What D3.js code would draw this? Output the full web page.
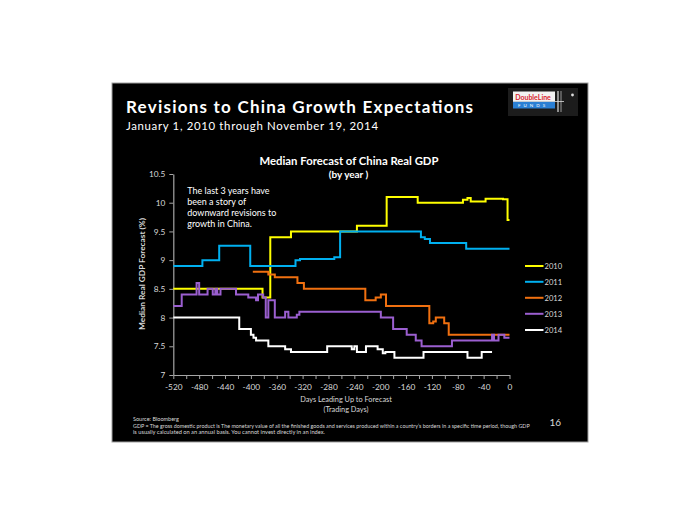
<!DOCTYPE html>
<html><head><meta charset="utf-8">
<script src="https://cdn.jsdelivr.net/npm/d3@7"></script>
<style>body{margin:0;background:#fff;} svg{display:block;} text{font-family:Lato,'Open Sans',sans-serif;}</style>
</head><body><svg id="c" width="700" height="525"></svg>
<script>
// ---------- data ----------
const years = ["2010", "2011", "2012", "2013", "2014"];
const days2010 = [-520, -382, -370, -338, -236, -190, -142, -72, -65, -60, -37, -10, -3, 0];
const vals2010 = [8.5, 8.35, 9.4, 9.5, 9.6, 10.1, 10.0, 10.05, 10.08, 10.02, 10.07, 10.06, 9.7, 9.7];
const days2011 = [-520, -475, -449, -401, -331, -324, -271, -262, -137, -131, -123, -67, 0];
const vals2011 = [8.9, 9.0, 9.25, 8.9, 9.0, 9.02, 9.05, 9.5, 9.4, 9.37, 9.3, 9.2, 9.2];
const days2012 = [-397, -373, -363, -328, -318, -223, -207, -199, -191, -124, -118, -114, -101, -94, 0];
const vals2012 = [8.8, 8.75, 8.7, 8.6, 8.5, 8.3, 8.35, 8.4, 8.2, 7.9, 7.93, 8.0, 7.9, 7.7, 7.7];
const days2013 = [-520, -507, -484, -480, -467, -459, -455, -452, -447, -423, -404, -392, -389, -381, -377, -373, -363, -347, -342, -329, -325, -199, -180, -159, -145, -136, -89, -27, -24, -17, -8, 0];
const vals2013 = [8.2, 8.4, 8.6, 8.4, 8.5, 8.4, 8.5, 8.4, 8.5, 8.4, 8.35, 8.3, 8.4, 8.35, 8.0, 8.3, 8.0, 8.1, 8.0, 8.05, 8.1, 8.0, 7.8, 7.7, 7.6, 7.5, 7.6, 7.7, 7.6, 7.7, 7.65, 7.65];
const days2014 = [-520, -418, -400, -396, -392, -373, -347, -338, -282, -244, -240, -236, -222, -204, -196, -192, -178, -133, -65, -43, -27];
const vals2014 = [8.0, 7.8, 7.7, 7.65, 7.6, 7.5, 7.45, 7.4, 7.5, 7.45, 7.5, 7.4, 7.5, 7.45, 7.38, 7.4, 7.3, 7.4, 7.3, 7.4, 7.4];
const xTickLabels = [-520, -480, -440, -400, -360, -320, -280, -240, -200, -160, -120, -80, -40, 0];
const xMinorTicks = [-500, -460, -420, -380, -340, -300, -260, -220, -180, -140, -100, -60, -20];
const yTicks = [7, 7.5, 8, 8.5, 9, 9.5, 10, 10.5];

const seriesDays = [days2010, days2011, days2012, days2013, days2014];
const seriesVals = [vals2010, vals2011, vals2012, vals2013, vals2014];
const colors = ["#ffff00", "#00b0f0", "#f07010", "#9b5fd0", "#ffffff"];

// ---------- drawing ----------
const svg = d3.select("#c");
function fit(sel, w) {
  const L = sel.node().getComputedTextLength();
  const fs = parseFloat(sel.attr("font-size"));
  sel.attr("font-size", (fs * w / L).toFixed(2));
  return sel;
}

svg.append("rect").attr("x", 112).attr("y", 83).attr("width", 476).attr("height", 359)
  .attr("fill", "#000").attr("stroke", "#a0a0a0").attr("stroke-width", 1);

// titles
svg.append("text").attr("x", 126).attr("y", 113).attr("font-size", 17).attr("font-weight", "bold")
  .attr("textLength", 347).attr("lengthAdjust", "spacing")
  .attr("fill", "#fff").text("Revisions to China Growth Expectations");
svg.append("text").attr("x", 126).attr("y", 129.5).attr("font-size", 11.4)
  .attr("textLength", 252).attr("lengthAdjust", "spacing")
  .attr("fill", "#fff").text("January 1, 2010 through November 19, 2014");

// logo
const lg = svg.append("g");
lg.append("rect").attr("x", 508).attr("y", 88).attr("width", 70).attr("height", 28).attr("fill", "#1c1c1c");
lg.append("rect").attr("x", 513).attr("y", 91.5).attr("width", 42).attr("height", 10).attr("fill", "#f2f2f2");
lg.append("rect").attr("x", 513).attr("y", 101.5).attr("width", 42).attr("height", 7).attr("fill", "#2a7fd4");
lg.append("text").attr("x", 533).attr("y", 99.5).attr("text-anchor", "middle").attr("font-size", 7)
  .attr("font-weight", "bold").attr("fill", "#d8262e").text("DoubleLine");
lg.append("text").attr("x", 533).attr("y", 107).attr("text-anchor", "middle").attr("font-size", 4.5)
  .attr("fill", "#fff").attr("letter-spacing", 3).text("FUNDS");
lg.append("line").attr("x1", 558).attr("x2", 558).attr("y1", 91).attr("y2", 112).attr("stroke", "#ddd").attr("stroke-width", 1.2);
lg.append("line").attr("x1", 561).attr("x2", 561).attr("y1", 91).attr("y2", 112).attr("stroke", "#bbb").attr("stroke-width", 0.8);
lg.append("line").attr("x1", 513).attr("x2", 564).attr("y1", 101.5).attr("y2", 101.5).attr("stroke", "#ddd").attr("stroke-width", 0.8);
lg.append("circle").attr("cx", 572.5).attr("cy", 95).attr("r", 1.4).attr("fill", "#ddd");

// chart title
fit(svg.append("text").attr("x", 349).attr("y", 164.5).attr("text-anchor", "middle").attr("font-size", 11)
  .attr("font-weight", "bold").attr("fill", "#fff").text("Median Forecast of China Real GDP"), 179);
fit(svg.append("text").attr("x", 348.5).attr("y", 178).attr("text-anchor", "middle").attr("font-size", 9)
  .attr("font-weight", "bold").attr("fill", "#fff").text("(by year )"), 39.6);

// scales
const x = d3.scaleLinear().domain([-520, 0]).range([173.3, 509.5]);
const y = d3.scaleLinear().domain([7, 10.5]).range([375, 174]);
const axisColor = "#a6a6a6", labelColor = "#d9d9d9";

const yAx = svg.append("g").attr("transform", "translate(173.3,0)")
  .call(d3.axisLeft(y).tickValues(yTicks).tickSize(4).tickSizeOuter(0).tickPadding(4).tickFormat(d => String(d)));
yAx.select(".domain").attr("stroke", axisColor).attr("stroke-width", 1.2);
yAx.selectAll(".tick line").attr("stroke", axisColor);
yAx.selectAll(".tick text").attr("fill", labelColor).attr("font-size", 8.3).attr("font-family", "Lato,'Open Sans',sans-serif");

const xAx = svg.append("g").attr("transform", "translate(0,375)")
  .call(d3.axisBottom(x).tickValues(xTickLabels).tickSize(4).tickSizeOuter(0).tickPadding(5).tickFormat(d => String(d)));
xAx.select(".domain").attr("stroke", axisColor).attr("stroke-width", 1.2);
xAx.selectAll(".tick line").attr("stroke", axisColor);
xAx.selectAll(".tick text").attr("fill", labelColor).attr("font-size", 8.3).attr("font-family", "Lato,'Open Sans',sans-serif");
const xMin = svg.append("g").attr("transform", "translate(0,375)")
  .call(d3.axisBottom(x).tickValues(xMinorTicks).tickSize(4).tickSizeOuter(0).tickFormat(""));
xMin.select(".domain").remove();
xMin.selectAll(".tick line").attr("stroke", axisColor);

// axis titles
const xt1 = fit(svg.append("text").attr("x", 346).attr("y", 402).attr("text-anchor", "middle").attr("font-size", 8.5)
  .attr("fill", labelColor).text("Days Leading Up to Forecast"), 91.7);
svg.append("text").attr("x", 346).attr("y", 411.5).attr("text-anchor", "middle").attr("font-size", xt1.attr("font-size"))
  .attr("fill", labelColor).text("(Trading Days)");
fit(svg.append("text").attr("transform", "translate(144.5,274) rotate(-90)").attr("text-anchor", "middle")
  .attr("font-size", 8.5).attr("font-weight", "bold").attr("fill", labelColor)
  .text("Median Real GDP Forecast (%)"), 112);

// annotation
const noteLines = ["The last 3 years have", "been a story of", "downward revisions to", "growth in China."];
const note = svg.append("text").attr("x", 187.3).attr("y", 193.5).attr("font-size", 9).attr("fill", "#fff");
note.selectAll("tspan").data(noteLines).join("tspan").attr("x", 187.3).attr("dy", (d, i) => i ? 11.2 : 0).text(d => d);
{
  const t = svg.append("text").attr("font-size", 9).text(noteLines[2]);
  const L = t.node().getComputedTextLength(); t.remove();
  note.attr("font-size", (9 * 89 / L).toFixed(2));
}

// lines
const line = d3.line().x(d => x(d[0])).y(d => y(d[1])).curve(d3.curveStepAfter);
years.forEach((yr, i) => {
  const pts = seriesDays[i].map((d, j) => [d, seriesVals[i][j]]);
  svg.append("path").datum(pts).attr("d", line).attr("fill", "none")
    .attr("stroke", colors[i]).attr("stroke-width", 2).attr("stroke-linejoin", "miter");
});

// legend
const legY = [266, 281.8, 297.8, 313.8, 330];
years.forEach((yr, i) => {
  svg.append("line").attr("x1", 525).attr("x2", 543.5).attr("y1", legY[i]).attr("y2", legY[i])
    .attr("stroke", colors[i]).attr("stroke-width", 2);
  fit(svg.append("text").attr("x", 544.5).attr("y", legY[i] + 3).attr("font-size", 8.5).attr("fill", labelColor).text(yr), 17.7);
});

// footnotes
fit(svg.append("text").attr("x", 133).attr("y", 421).attr("font-size", 5.5).attr("fill", labelColor).text("Source: Bloomberg"), 46);
fit(svg.append("text").attr("x", 133).attr("y", 427.6).attr("font-size", 5.5).attr("fill", labelColor)
  .text("GDP = The gross domestic product is The monetary value of all the finished goods and services produced within a country\u2019s borders in a specific time period, though GDP"), 397);
fit(svg.append("text").attr("x", 133).attr("y", 434.2).attr("font-size", 5.5).attr("fill", labelColor)
  .text("is usually calculated on an annual basis. You cannot invest directly in an index."), 192);
svg.append("text").attr("x", 549.5).attr("y", 426).attr("font-size", 10).attr("fill", labelColor).text("16");
</script></body></html>
